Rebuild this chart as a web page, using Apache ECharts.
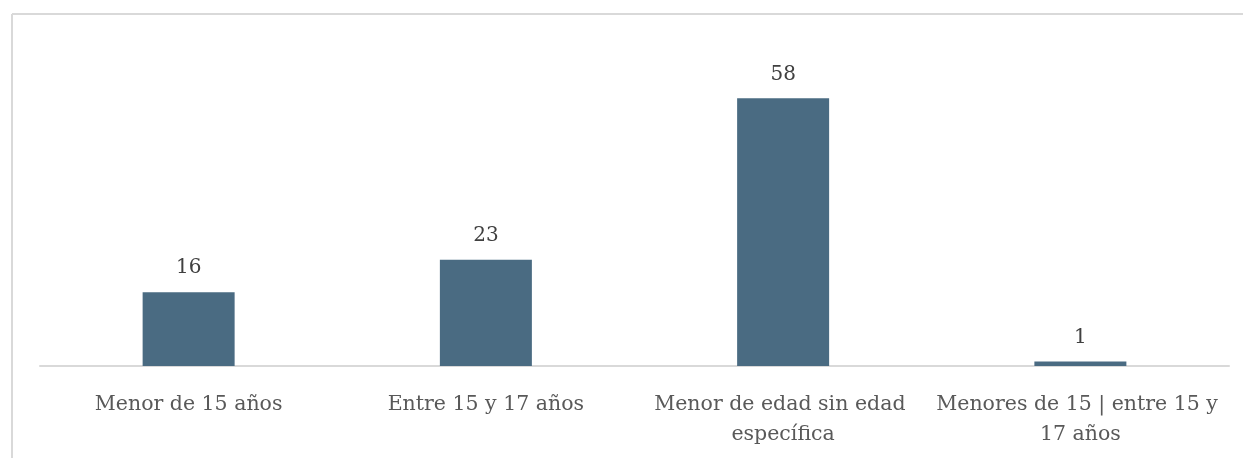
<!DOCTYPE html>
<html>
<head>
<meta charset="utf-8">
<script src="https://cdn.jsdelivr.net/npm/echarts@6/dist/echarts.min.js"></script>
<style>
html,body{margin:0;padding:0;background:#fff;overflow:hidden;}
#chart{position:absolute;left:0;top:0;width:1243px;height:458px;}
</style>
</head>
<body>
<div id="chart"></div>
<script>
const categories = ["Menor de 15 años", "Entre 15 y 17 años", "Menor de edad sin edad específica", "Menores de 15 | entre 15 y 17 años"];
const values = [16, 23, 58, 1];

const chart = echarts.init(document.getElementById('chart'));
const font = "'DejaVu Serif', serif";
chart.setOption({
  animation: false,
  graphic: [
    {type: 'line', shape: {x1: 12, y1: 14, x2: 1243, y2: 14}, style: {stroke: '#d9d9d9', lineWidth: 2}},
    {type: 'line', shape: {x1: 12, y1: 14, x2: 12, y2: 458}, style: {stroke: '#d9d9d9', lineWidth: 2}}
  ],
  grid: {left: 40, right: 14, top: 43, bottom: 92},
  xAxis: {
    type: 'category',
    data: categories,
    axisLine: {lineStyle: {color: '#d9d9d9', width: 2}},
    axisTick: {show: false},
    axisLabel: {
      color: '#595959', fontFamily: font, fontSize: 20.5, margin: 24,
      width: 292, overflow: 'break', lineHeight: 30, interval: 0
    }
  },
  yAxis: {type: 'value', min: 0, max: 70, show: false, splitLine: {show: false}},
  series: [{
    type: 'bar',
    data: values,
    barWidth: 92,
    itemStyle: {color: '#4a6b82'},
    label: {show: true, position: 'top', distance: 14, color: '#404040', fontFamily: font, fontSize: 20}
  }]
});
</script>
</body>
</html>
